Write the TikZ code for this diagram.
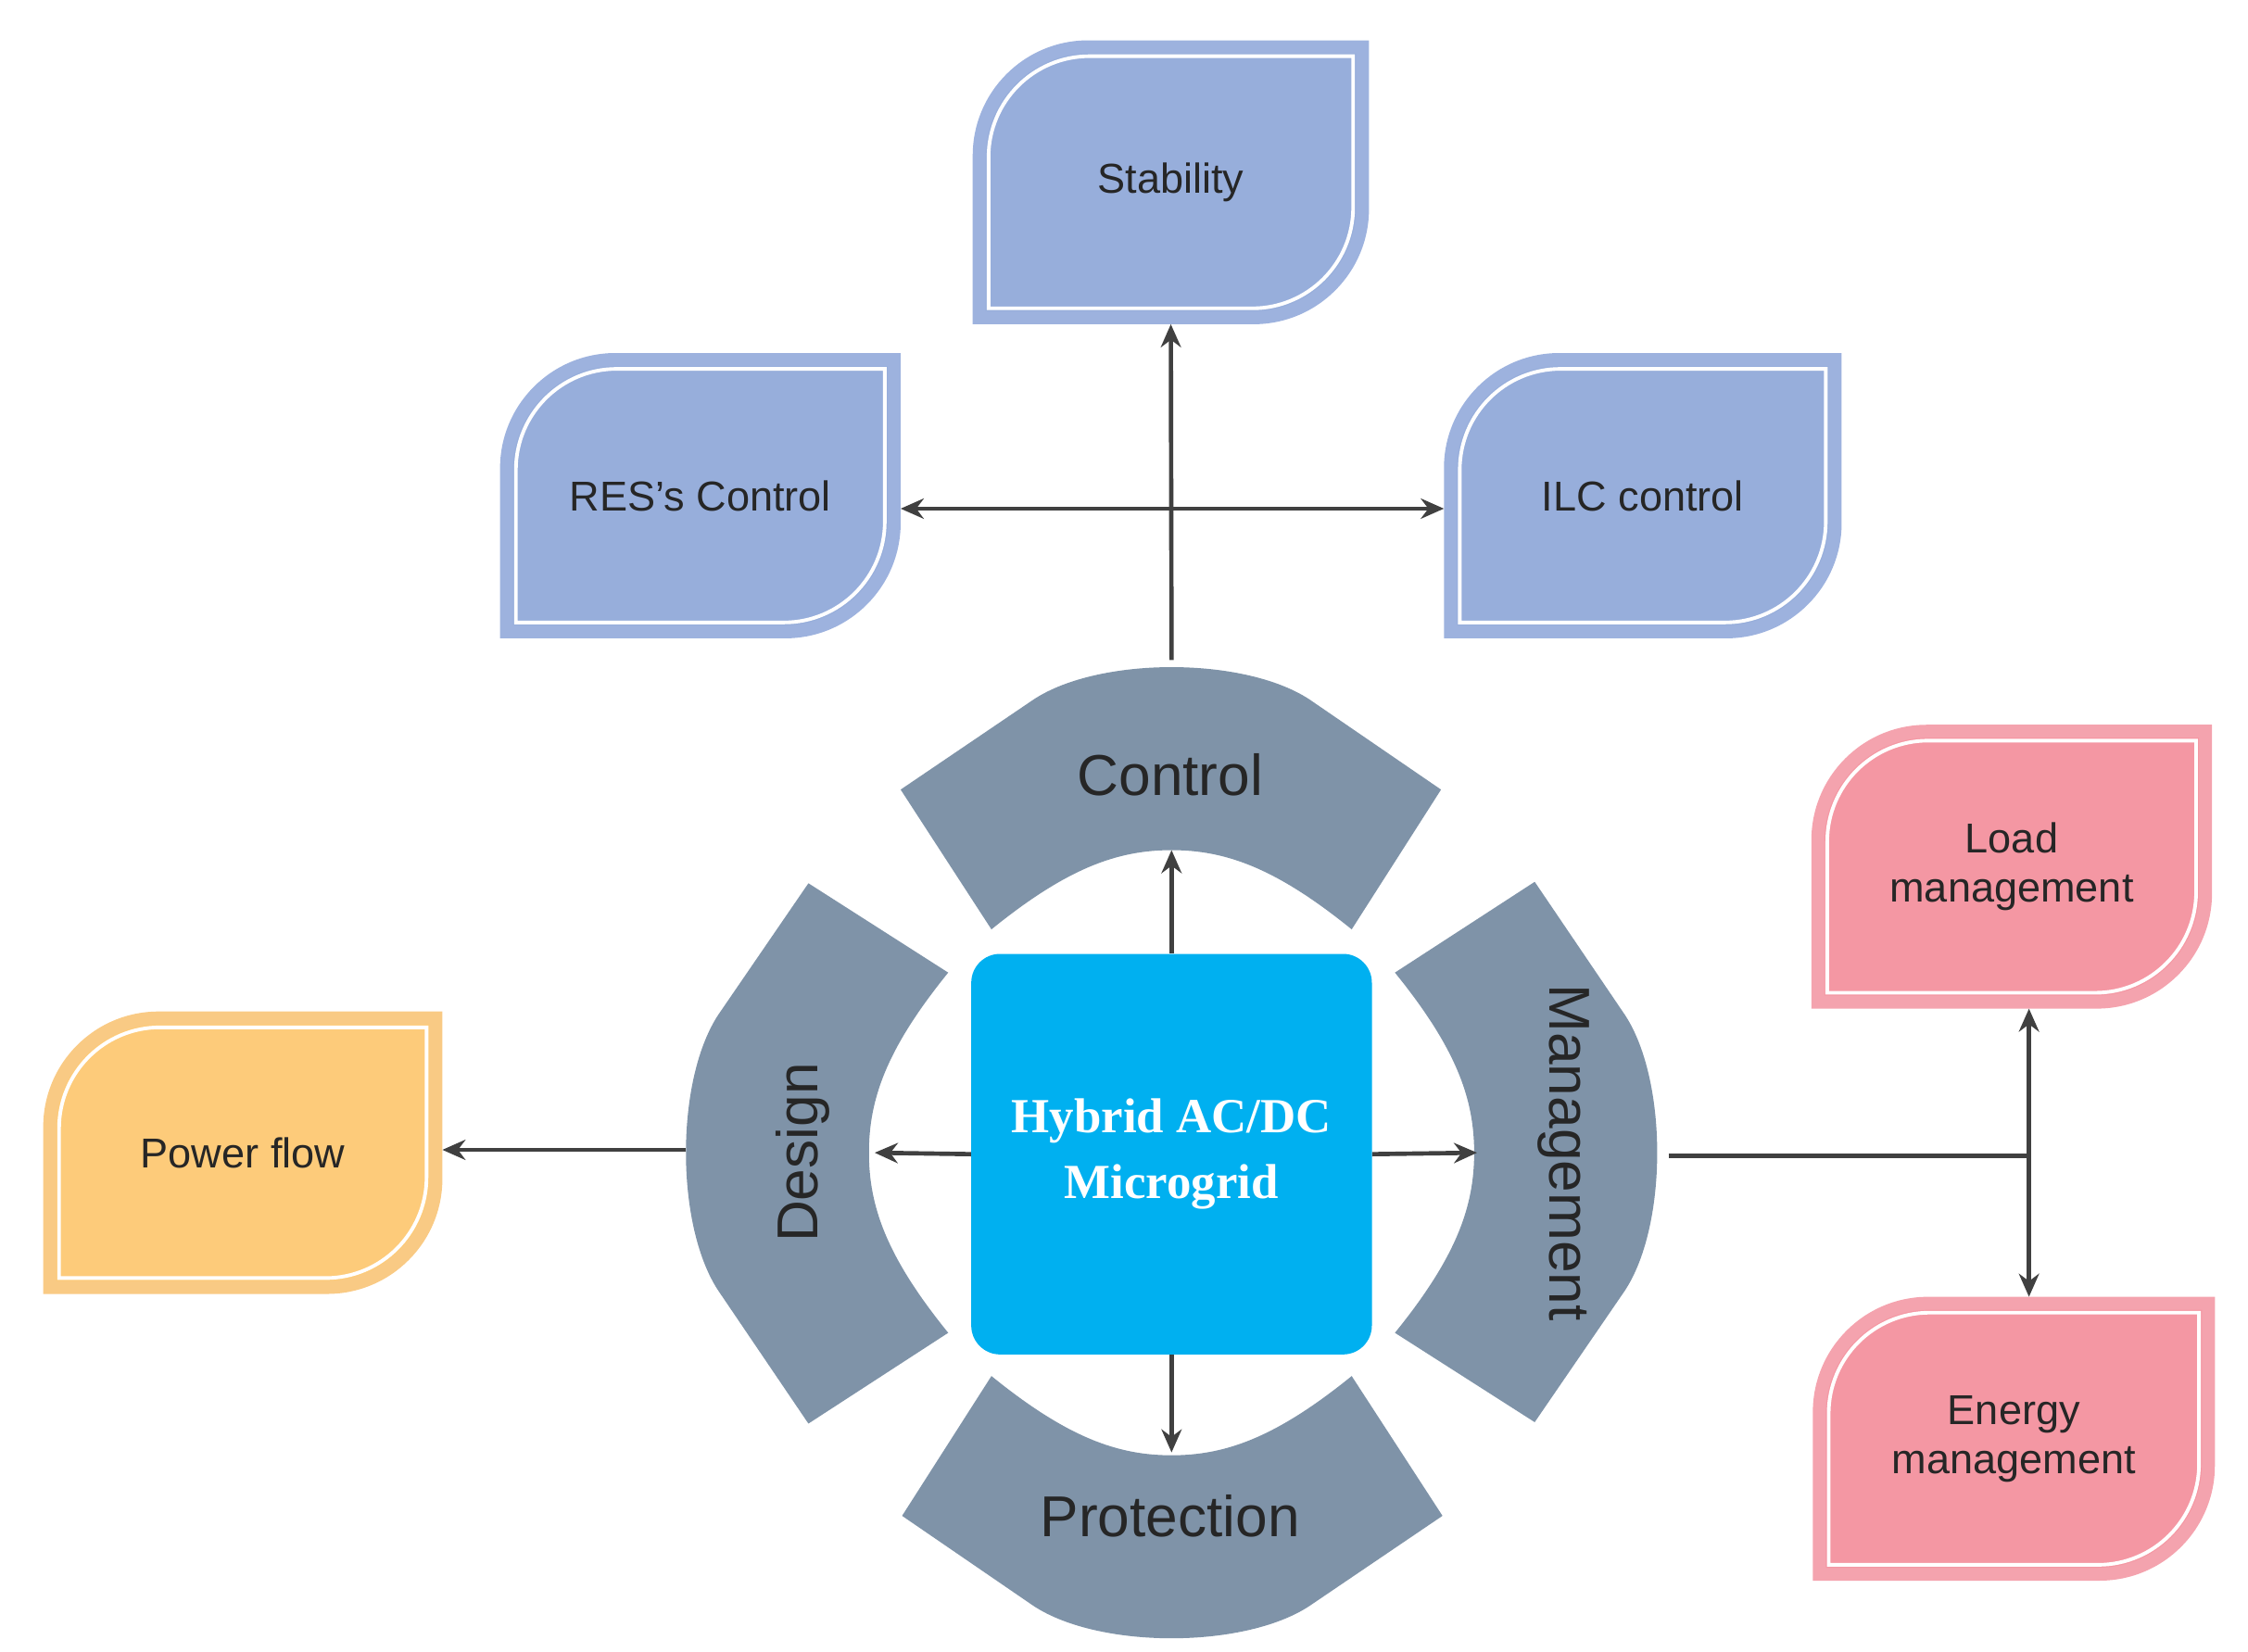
\documentclass[tikz,border=0pt]{standalone}
\usepackage{fontspec}
\setmainfont{Liberation Sans}
\newfontfamily\serifb{Liberation Serif}
\usetikzlibrary{arrows.meta}
\definecolor{bfill}{HTML}{97AEDB}\definecolor{bline}{HTML}{9DB2DE}
\definecolor{pfill}{HTML}{F497A3}\definecolor{pline}{HTML}{F4A3AE}
\definecolor{ofill}{HTML}{FDCB7A}\definecolor{oline}{HTML}{F9CA84}
\definecolor{ring}{HTML}{7F93A8}\definecolor{core}{HTML}{00B0F0}
\definecolor{arr}{HTML}{404040}
\newcommand{\leafpath}[5]{% x1 y1 x2 y2 r
 (#1,#4) -- (#1,#2+#5) .. controls (#1,#2+0.448*#5) and (#1+0.448*#5,#2) .. (#1+#5,#2) -- (#3,#2) -- (#3,#4-#5) .. controls (#3,#4-0.448*#5) and (#3-0.448*#5,#4) .. (#3-#5,#4) -- cycle}
\newcommand{\leaf}[8]{% name x1 y1 x2 y2 fill line text
 \fill[#7]\leafpath{#2}{#3}{#4}{#5}{80};
 \fill[#6]\leafpath{#2+9}{#3+9}{#4-9}{#5-9}{72};
 \draw[white,line width=2.5pt]\leafpath{#2+11}{#3+11}{#4-11}{#5-11}{70};
 \node[leaftext] (#1) at ({(#2+#4)/2},{(#3+#5)/2}) {#8};}
\tikzset{leaftext/.style={font=\fontsize{29}{34}\selectfont,text=black!85,align=center},
 segtext/.style={font=\fontsize{40}{46}\selectfont,text=black!85},
 conn/.style={draw=arr,line width=3pt},
 ar/.style={conn,-{Stealth[length=16pt,width=14pt]}}}
\begin{document}
\begin{tikzpicture}[x=1pt,y=-1pt]
\useasboundingbox (0,0) rectangle (1560,1146);
\leaf{stab}{675}{28}{950}{225}{bfill}{bline}{Stability}
\leaf{res}{347}{245}{625}{443}{bfill}{bline}{RES's Control}
\leaf{ilc}{1002}{245}{1278}{443}{bfill}{bline}{ILC control}
\leaf{load}{1257}{503}{1535}{700}{pfill}{pline}{Load\\management}
\leaf{energy}{1258}{900}{1537}{1097}{pfill}{pline}{Energy\\management}
\leaf{pf}{30}{702}{307}{898}{ofill}{oline}{Power flow}
\foreach \a in {0,90,180,270}{
 \fill[ring,rotate around={\a:(813,800)}] (625,548) -- (715,487) .. controls (760,455) and (866,455) .. (911,487) -- (1000,548) -- (938,645) .. controls (885,602) and (850,590) .. (813,590) .. controls (776,590) and (741,602) .. (688,645) -- cycle;}
\node[segtext] (ctl) at (812,538) {Control};
\node[segtext] (prot) at (812,1052) {Protection};
\node[segtext,rotate=90] (des) at (557,800) {Design};
\node[segtext,rotate=-90] (man) at (1085,800) {Management};
\node[fill=core,rounded corners=20pt,minimum width=278pt,minimum height=278pt,text=white,align=center,font=\serifb\bfseries\fontsize{34}{46}\selectfont] (hub) at (813,801) {Hybrid AC/DC\\Microgrid};
\coordinate (ctop) at (813,458);
\coordinate (cin) at (813,590);
\coordinate (pin) at (813,1008);
\coordinate (din) at (607,800);
\coordinate (min) at (1025,800);
\coordinate (dout) at (476,798);
\coordinate (mout) at (1158,802);
\coordinate (j1) at (813,353);
\coordinate (j2) at (1408,802);
\draw[ar] (ctop) -- (stab.center |- 0,225);
\draw[ar] (j1) -- (625,353);
\draw[ar] (j1) -- (1002,353);
\draw[ar] (hub.north) -- (cin);
\draw[ar] (hub.south) -- (pin);
\draw[ar] (hub.west) -- (din);
\draw[ar] (hub.east) -- (min);
\draw[ar] (dout) -- (307,798);
\draw[conn] (mout) -- (j2);
\draw[ar] (j2) -- (1408,700);
\draw[ar] (j2) -- (1408,900);
\end{tikzpicture}
\end{document}
